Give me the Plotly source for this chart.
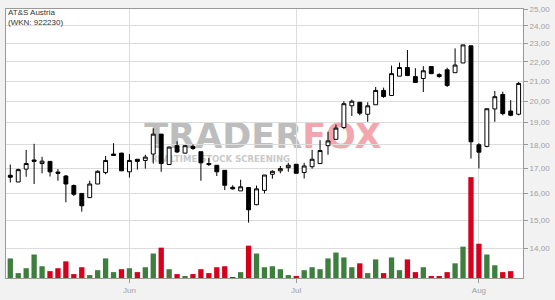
import plotly.graph_objects as go
import math

# ---------------- data ----------------
title_lines = ["AT&S Austria", "(WKN: 922230)"]
day_index = list(range(65))
opens = [16.72, 16.45, 16.97, 17.35, 17.20, 17.29, 16.85, 16.69, 16.31, 16.00,
         15.84, 16.37, 16.83, 17.60, 17.64, 16.86, 17.38, 17.33, 17.60, 18.47,
         17.16, 17.96, 17.64, 17.93, 17.70, 17.20, 17.13, 16.92, 16.24, 16.10,
         16.23, 15.57, 16.12, 16.76, 16.90, 17.03, 17.17, 16.83, 17.07, 17.20,
         17.96, 18.24, 18.77, 19.78, 19.95, 19.38, 19.83, 20.53, 20.28, 21.25,
         21.70, 21.23, 21.13, 21.75, 21.33, 21.58, 21.43, 21.94, 22.87, 18.00,
         17.93, 19.63, 20.33, 19.53, 19.38]
highs = [17.16, 16.99, 17.78, 18.04, 17.48, 17.29, 16.97, 16.73, 16.35, 16.00,
         16.50, 16.92, 17.52, 18.07, 17.65, 17.60, 17.38, 17.57, 18.73, 18.47,
         17.93, 18.15, 17.98, 18.01, 17.70, 17.43, 17.13, 16.92, 16.32, 16.54,
         16.23, 16.31, 16.73, 16.92, 17.10, 17.23, 17.17, 17.23, 17.78, 18.20,
         18.58, 18.90, 20.00, 20.08, 19.95, 19.95, 20.70, 20.67, 21.80, 21.96,
         22.64, 21.67, 21.77, 21.77, 21.40, 21.69, 22.73, 22.92, 22.87, 18.07,
         19.64, 20.50, 20.47, 20.05, 20.95]
lows = [16.43, 16.45, 16.66, 16.37, 16.80, 16.67, 16.50, 15.66, 15.90, 15.31,
        15.84, 16.37, 16.76, 17.54, 16.90, 16.63, 16.95, 16.99, 17.20, 16.86,
        17.16, 17.64, 17.62, 17.78, 16.50, 17.10, 16.69, 16.13, 16.15, 16.10,
        14.91, 15.55, 16.00, 16.58, 16.80, 16.86, 16.80, 16.59, 16.99, 17.20,
        17.57, 18.24, 18.69, 19.30, 19.33, 19.03, 19.83, 20.16, 20.28, 21.25,
        21.28, 20.93, 20.45, 21.38, 21.17, 20.70, 21.43, 21.94, 17.41, 17.00,
        17.89, 19.03, 19.33, 19.29, 19.33]
closes = [16.64, 16.95, 17.20, 17.29, 17.30, 16.86, 16.80, 16.37, 15.97, 15.53,
          16.37, 16.88, 17.33, 17.54, 16.90, 17.33, 17.29, 17.47, 18.47, 17.20,
          17.90, 17.69, 17.96, 17.84, 17.23, 17.16, 16.86, 16.32, 16.18, 16.26,
          15.38, 16.18, 16.73, 16.88, 16.99, 17.13, 16.80, 17.10, 17.38, 17.75,
          18.17, 18.74, 19.88, 20.00, 19.43, 19.78, 20.53, 20.23, 21.38, 21.70,
          21.28, 20.93, 21.53, 21.38, 21.23, 20.78, 21.83, 22.92, 18.13, 17.68,
          19.64, 20.22, 19.41, 19.33, 20.88]
# volume in thousand shares (last day not yet reported)
volumes = [40, 10, 20, 48, 24, 14, 20, 34, 8, 22,
           6, 16, 40, 12, 18, 20, 12, 22, 50, 62,
           18, 8, 4, 8, 18, 10, 22, 24, 1, 12,
           66, 50, 22, 24, 18, 6, 4, 16, 22, 18,
           40, 52, 42, 22, 30, 10, 38, 10, 42, 16,
           38, 12, 22, 4, 4, 12, 30, 64, 206, 70,
           48, 26, 12, 14, None]
prev_close = 16.5
month_ticks = [15, 36, 59]
month_labels = ["Jun", "Jul", "Aug"]
price_ticks = [14, 15, 16, 17, 18, 19, 20, 21, 22, 23, 24, 25]
price_min, price_max = 13.04, 25.0

# ---------------- styling ----------------
GREEN = "#3e7f40"
RED = "#d6001c"
GRID = "#dcdcdc"
AXIS = "#9a9a9a"
TICKFONT = dict(family="Liberation Sans, Arial, sans-serif", size=8, color="#a0a0a0")

vol_colors = []
last = prev_close
for c in closes:
    vol_colors.append(GREEN if c >= last else RED)
    last = c

fig = go.Figure()

fig.add_trace(go.Bar(
    x=day_index, y=volumes, marker=dict(color=vol_colors, line=dict(width=0)),
    yaxis="y2", hoverinfo="skip", showlegend=False,
))

fig.add_trace(go.Candlestick(
    x=day_index, open=opens, high=highs, low=lows, close=closes,
    increasing=dict(line=dict(color="#000000", width=1), fillcolor="#ffffff"),
    decreasing=dict(line=dict(color="#000000", width=1), fillcolor="#000000"),
    whiskerwidth=0, showlegend=False,
))

fig.update_layout(
    width=555, height=300,
    margin=dict(l=5, r=29, t=5, b=20),
    paper_bgcolor="#f2f2f2", plot_bgcolor="#ffffff",
    separators=",.",
    bargap=0.33,
    showlegend=False,
    xaxis=dict(
        range=[-0.54, 64.55], tickvals=month_ticks, ticktext=month_labels,
        showgrid=True, gridcolor=GRID, gridwidth=1, zeroline=False,
        showline=True, linecolor=AXIS, linewidth=1, mirror=True,
        ticks="outside", ticklen=4, tickcolor=AXIS, tickfont=TICKFONT,
        rangeslider=dict(visible=False), fixedrange=True,
    ),
    yaxis=dict(
        type="log", range=[math.log10(price_min), math.log10(price_max)],
        side="right", tickvals=price_ticks, tickformat=".2f",
        showgrid=True, gridcolor=GRID, gridwidth=1, zeroline=False,
        showline=True, linecolor=AXIS, linewidth=1, mirror=True,
        ticks="outside", ticklen=4, tickcolor=AXIS, tickfont=TICKFONT,
    ),
    yaxis2=dict(
        overlaying="y", range=[0, max(v for v in volumes if v) / 0.375],
        visible=False, fixedrange=True,
    ),
)

# title block
fig.add_annotation(
    xref="paper", yref="paper", x=0.0, y=1.012, xanchor="left", yanchor="top",
    text="<br>".join(title_lines), align="left", showarrow=False,
    font=dict(family="Liberation Sans, Arial, sans-serif", size=8, color="#333333"),
)

# watermark (drawn between grid and data)
fig.add_shape(
    type="rect", xref="paper", yref="paper", x0=0.259, x1=0.735, y0=0.50, y1=0.575,
    line=dict(width=0), fillcolor="rgba(0,0,0,0)", layer="between",
    label=dict(text="<b>TRADER<span style='color:#f2a7ae'>FOX</span></b>",
               textposition="middle center", padding=0,
               font=dict(family="DejaVu Sans", size=35, color="#bdbdbd")),
)
fig.add_shape(
    type="rect", xref="paper", yref="paper", x0=0.27, x1=0.56, y0=0.43, y1=0.455,
    line=dict(width=0), fillcolor="rgba(0,0,0,0)", layer="between",
    label=dict(text="<b>REALTIME STOCK SCREENING</b>", textposition="middle center",
               padding=0,
               font=dict(family="DejaVu Sans", size=8.5, color="#c9c9c9")),
)

fig.write_html("out.html")
